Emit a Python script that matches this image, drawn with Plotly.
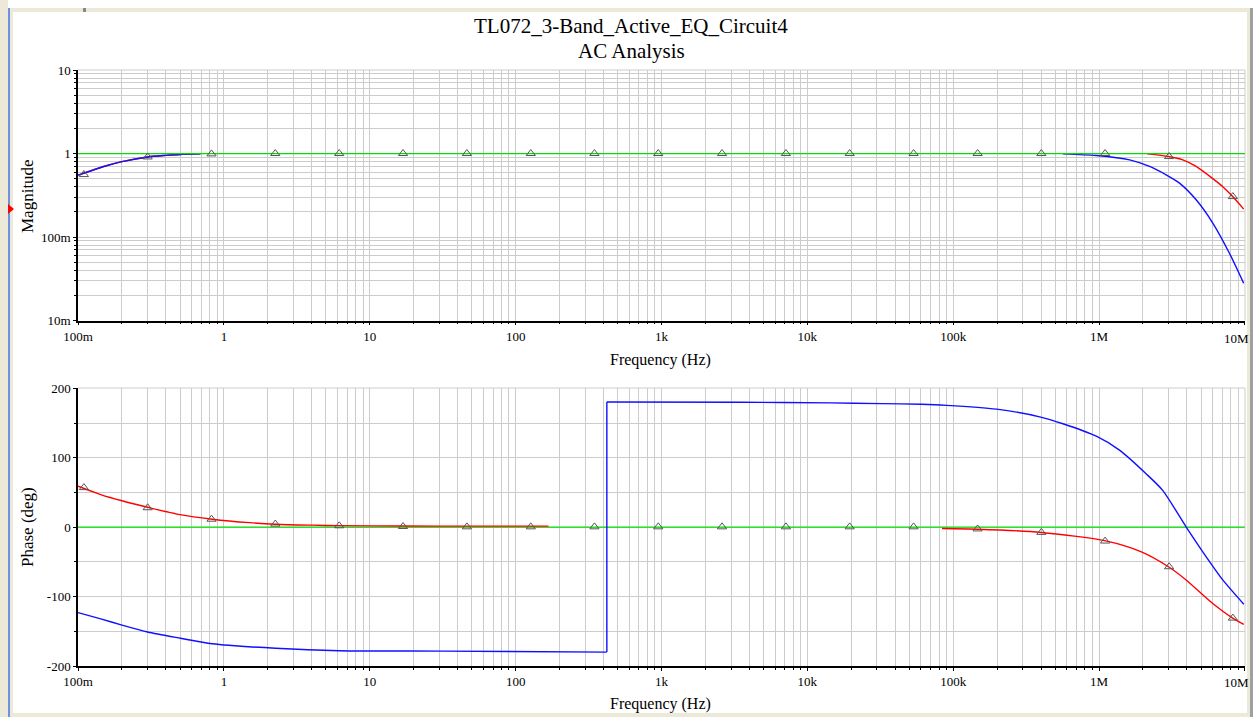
import plotly.graph_objects as go

# ---------------- data ----------------
# Magnitude (top plot)
mag_red_left_f = [0.1, 0.15, 0.2, 0.3, 0.4, 0.5, 0.69]
mag_red_left_v = [0.55, 0.70, 0.80, 0.91, 0.95, 0.975, 0.99]
mag_blue_left_f = [0.1, 0.15, 0.2, 0.3, 0.4, 0.5, 0.69]
mag_blue_left_v = [0.55, 0.70, 0.80, 0.91, 0.95, 0.975, 0.99]

mag_blue_right_f = [565e3, 957e3, 1.62e6, 2.22e6, 2.88e6, 3.56e6, 4.63e6, 6.02e6, 7.83e6, 9.8e6]
mag_blue_right_v = [0.99, 0.946, 0.84, 0.70, 0.556, 0.442, 0.279, 0.147, 0.064, 0.028]

mag_red_right_f = [2.14e6, 2.99e6, 3.75e6, 4.63e6, 6.02e6, 7.05e6, 8.24e6, 9.8e6]
mag_red_right_v = [0.99, 0.92, 0.84, 0.70, 0.50, 0.40, 0.305, 0.216]

# Phase (bottom plot)
ph_red_left_f = [0.1, 0.143, 0.2, 0.305, 0.5, 0.83, 1.5, 2.26, 4.0, 6.18, 17, 50, 168]
ph_red_left_v = [59, 47, 38, 28.3, 18, 11.5, 6.5, 4.3, 2.9, 2.2, 1.6, 1.5, 1.5]

ph_red_right_f = [83.8e3, 148e3, 402e3, 1.11e6, 1.95e6, 2.99e6, 3.95e6, 6.02e6, 8.24e6, 9.82e6]
ph_red_right_v = [-2, -3, -7.6, -19.7, -35.5, -57, -76, -110, -131, -140]

ph_blue_low_f = [0.1, 0.143, 0.2, 0.3, 0.504, 0.83, 2.26, 6.18, 32.5, 422]
ph_blue_low_v = [-123, -132, -141, -151, -160, -168, -174.5, -178, -178.5, -180]
ph_blue_high_f = [422, 3490, 14.3e3, 32.2e3, 60.5e3, 89.8e3, 198e3, 391e3, 565e3, 957e3,
                  1.38e6, 2.10e6, 2.73e6, 3.95e6, 5.14e6, 7.05e6, 9.82e6]
ph_blue_high_v = [180.3, 180, 179, 178, 177, 175.5, 170, 159, 149, 131,
                  111, 77, 53, 0.5, -35.5, -76, -111]

# Reference (green) level, and the triangle marker points
ref_f = [0.1, 10e6]
ref_mag = [1, 1]
ref_phase = [0, 0]

marker_f = [0.1096, 0.300, 0.822, 2.25, 6.17, 16.9, 46.3, 127, 347, 950, 2.60e3, 7.13e3,
            19.5e3, 53.5e3, 147e3, 402e3, 1.10e6, 3.02e6, 8.26e6]
marker_mag = [0.56, 0.91, 0.99, 1, 1, 1, 1, 1, 1, 1, 1, 1, 1, 1, 1, 1, 1, 0.92, 0.305]
marker_phase = [57, 28, 11.5, 4.5, 2, 1, 0.5, 0.5, 0.5, 0.5, 0.5, 0.5, 0.5, 0.5, -2.5, -7.5,
                -20, -57, -131]

x_tickvals = [0.1, 1, 10, 100, 1e3, 1e4, 1e5, 1e6, 1e7]
x_ticktext = ["100m", "1", "10", "100", "1k", "10k", "100k", "1M", "10M"]
mag_tickvals = [0.01, 0.1, 1, 10]
mag_ticktext = ["10m", "100m", "1", "10"]
phase_tickvals = [-200, -100, 0, 100, 200]
phase_ticktext = ["-200", "-100", "0", "100", "200"]

title_line1 = "TL072_3-Band_Active_EQ_Circuit4"
title_line2 = "AC Analysis"
x_title = "Frequency (Hz)"
mag_title = "Magnitude"
phase_title = "Phase (deg)"

# ---------------- figure ----------------
W, H = 1253, 717
L, R, T, B = 78, 8, 70, 51
PW, PH = W - L - R, H - T - B

def px(x):
    return (x - L) / PW

def py(y):
    return (H - B - y) / PH

top_dom = [py(320.5), 1.0]
bot_dom = [0.0, py(388)]

RED = "#ff0000"
BLUE = "#1010ff"
GREEN = "#00e000"
GRID = "#cccccc"
FONT = "Times New Roman, Liberation Serif, Tinos, serif"

fig = go.Figure()

def line(xs, ys, color, axis, width=1.4, shape="spline"):
    fig.add_trace(go.Scatter(x=xs, y=ys, mode="lines",
                             line=dict(color=color, width=width, shape=shape, smoothing=0.7),
                             xaxis=axis[0], yaxis=axis[1], hoverinfo="skip", showlegend=False))

top = ("x", "y")
bot = ("x2", "y2")

# magnitude
line(mag_red_left_f, mag_red_left_v, RED, top)
line(mag_blue_left_f, mag_blue_left_v, BLUE, top)
line(mag_blue_right_f, mag_blue_right_v, BLUE, top)
line(mag_red_right_f, mag_red_right_v, RED, top)
line(ref_f, ref_mag, GREEN, top, 1.3, "linear")
fig.add_trace(go.Scatter(x=marker_f, y=marker_mag, mode="markers",
                         marker=dict(symbol="triangle-up-open", size=8, color="#555555",
                                     line=dict(width=1)),
                         xaxis="x", yaxis="y", hoverinfo="skip", showlegend=False))

# phase
line(ref_f, ref_phase, GREEN, bot, 1.3, "linear")
line(ph_red_left_f, ph_red_left_v, RED, bot)
line(ph_blue_low_f, ph_blue_low_v, BLUE, bot)
line([ph_blue_low_f[-1], ph_blue_high_f[0]], [ph_blue_low_v[-1], ph_blue_high_v[0]], BLUE, bot,
     1.4, "linear")
line(ph_blue_high_f, ph_blue_high_v, BLUE, bot)
line(ph_red_right_f, ph_red_right_v, RED, bot)
fig.add_trace(go.Scatter(x=marker_f, y=marker_phase, mode="markers",
                         marker=dict(symbol="triangle-up-open", size=8, color="#555555",
                                     line=dict(width=1)),
                         xaxis="x2", yaxis="y2", hoverinfo="skip", showlegend=False))

minor_x = [m * 10 ** e for e in range(-1, 7) for m in range(2, 10)]
minor_mag = [m * 10 ** e for e in range(-2, 1) for m in range(2, 10)]

tickfont = dict(family=FONT, size=13, color="#000000")

# last x label is placed by hand (shifted left to stay inside the window, as in the original)
x_ticktext_axis = x_ticktext[:-1] + [""]

xcommon = dict(type="log", range=[-1.0005, 7.0005], tickmode="array", tickvals=x_tickvals,
               ticktext=x_ticktext_axis, showgrid=True, gridcolor=GRID, gridwidth=1,
               showline=True, linecolor="#000000", linewidth=1.5, ticks="outside",
               ticklen=3, tickcolor="#000000", tickfont=tickfont, zeroline=False,
               automargin=False,
               minor=dict(tickmode="array", tickvals=minor_x, showgrid=True, gridcolor=GRID,
                          gridwidth=1, ticks="outside", ticklen=2, tickcolor="#000000"))

fig.update_layout(
    width=W, height=H,
    margin=dict(l=L, r=R, t=T, b=B),
    paper_bgcolor="white", plot_bgcolor="white",
    xaxis=dict(domain=[0, 1], anchor="y", **xcommon),
    xaxis2=dict(domain=[0, 1], anchor="y2", **xcommon),
    yaxis=dict(domain=top_dom, anchor="x", type="log", range=[-2, 1.0005], tickmode="array",
               tickvals=mag_tickvals, ticktext=mag_ticktext, showgrid=True, gridcolor=GRID,
               showline=True, linecolor="#000000", linewidth=1.5, ticks="outside",
               ticklen=3, tickcolor="#000000", tickfont=tickfont, zeroline=False,
               automargin=False,
               minor=dict(tickmode="array", tickvals=minor_mag, showgrid=True,
                          gridcolor=GRID, ticks="outside", ticklen=2, tickcolor="#000000")),
    yaxis2=dict(domain=bot_dom, anchor="x2", range=[-200, 200.5], tickmode="array",
                tickvals=phase_tickvals, ticktext=phase_ticktext, showgrid=True,
                gridcolor=GRID, showline=True, linecolor="#000000", linewidth=1.5,
                ticks="outside", ticklen=3, tickcolor="#000000", tickfont=tickfont,
                zeroline=False, automargin=False,
                minor=dict(dtick=50, showgrid=True, gridcolor=GRID, ticks="outside",
                           ticklen=2, tickcolor="#000000")),
    showlegend=False,
)

def ann(text, x, y, size, angle=0):
    fig.add_annotation(text=text, xref="paper", yref="paper", x=px(x), y=py(y),
                       showarrow=False, font=dict(family=FONT, size=size, color="#000"),
                       xanchor="center", yanchor="middle", textangle=angle)

ann(title_line1, 631, 26, 21)
ann(title_line2, 631, 51, 21)
ann(x_title, 660, 360, 16)
ann(x_title, 660, 704, 16)
ann(mag_title, 27, 196, 17, -90)
ann(phase_title, 27, 527, 17, -90)
ann(x_ticktext[-1], 1236, 338, 13)
ann(x_ticktext[-1], 1236, 682, 13)

shapes = []
# plot borders (top/right) in grid colour
for d in (top_dom, bot_dom):
    shapes.append(dict(type="line", xref="paper", yref="paper", x0=0, x1=1, y0=d[1], y1=d[1],
                       line=dict(color=GRID, width=1), layer="below"))
    shapes.append(dict(type="line", xref="paper", yref="paper", x0=1, x1=1, y0=d[0], y1=d[1],
                       line=dict(color=GRID, width=1), layer="below"))

BEIGE = "#ece9d8"
def rect(x0, y0, x1, y1, color):
    shapes.append(dict(type="rect", xref="paper", yref="paper", x0=px(x0), x1=px(x1),
                       y0=py(y1), y1=py(y0), fillcolor=color, line=dict(width=0), layer="above"))

# window frame
rect(0, 8, W, 12, BEIGE)
rect(0, 713, W, H, BEIGE)
rect(0, 0, 8, H, BEIGE)
rect(8, 8, 10, H, "#7090e0")
rect(10, 12, 13, H, BEIGE)
rect(1247, 8, 1250, H, BEIGE)
rect(1250, 8, W, H, "#a0a0a0")
rect(83, 8, 86, 12, "#888888")

# red cursor triangle
shapes.append(dict(type="path", xref="paper", yref="paper",
                   path=f"M {px(8)} {py(204)} L {px(14)} {py(209)} L {px(8)} {py(214)} Z",
                   fillcolor="#ff0000", line=dict(width=0), layer="above"))

fig.update_layout(shapes=shapes)

fig.write_html("out.html")
